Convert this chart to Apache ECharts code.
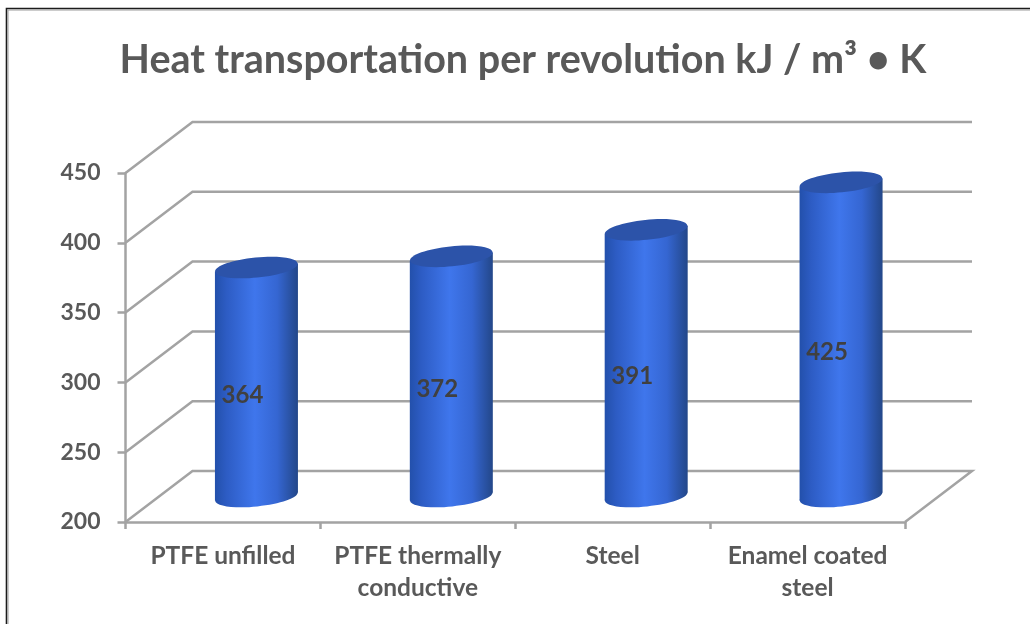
<!DOCTYPE html>
<html>
<head>
<meta charset="utf-8">
<style>html,body{margin:0;padding:0;background:#fff}#c{width:1030px;height:624px}</style>
<script src="https://cdn.jsdelivr.net/npm/echarts@6/dist/echarts.min.js"></script>
</head>
<body>
<div id="c"></div>
<script>
var titleText = 'Heat transportation per revolution kJ / m³ • K';
var categories = ['PTFE unfilled', 'PTFE thermally\nconductive', 'Steel', 'Enamel coated\nsteel'];
var values = [364, 372, 391, 425];
var yTicks = [200, 250, 300, 350, 400, 450];

var FONT = 'Lato, "Open Sans", sans-serif';
var TEXT = '#595959';
var LINE = '#a3a3a3';
var LW = 2.5;
var DX = 67, DY = -51;

var chart = echarts.init(document.getElementById('c'));

function wall(params, api) {
  var v = api.value(0);
  var cs = params.coordSys;
  var y = api.coord([0, v])[1];
  var x0 = cs.x, x1 = cs.x + cs.width;
  var pts = [[x0, y], [x0 + DX, y + DY], [x1 + DX, y + DY]];
  if (v === yTicks[0]) pts.push([x1, y]);
  return {
    type: 'polyline',
    shape: { points: pts },
    style: { stroke: LINE, lineWidth: LW, fill: null },
    silent: true
  };
}

function cylinder(params, api) {
  var cat = api.value(0), v = api.value(1);
  var top = api.coord([cat, v]);
  var base = api.coord([cat, yTicks[0]]);
  var cx = top[0] + DX / 2, ty = top[1] + DY / 2, by = base[1] + DY / 2;
  var rx = 41.5, ry = 10, tilt = 4;
  function side() {
    return new echarts.graphic.LinearGradient(0, 0, 1, 0, [
      { offset: 0, color: '#2350ab' },
      { offset: 0.14, color: '#2d5cc4' },
      { offset: 0.48, color: '#3f76ec' },
      { offset: 0.75, color: '#3566d2' },
      { offset: 1, color: '#234789' }
    ]);
  }
  function ell(y, fill) {
    return {
      type: 'ellipse',
      shape: { cx: cx, cy: y, rx: rx, ry: ry },
      originX: cx, originY: y, rotation: 0.1,
      style: { fill: fill }
    };
  }
  return {
    type: 'group',
    children: [
      ell(by, side()),
      {
        type: 'polygon',
        shape: { points: [[cx - rx, ty + tilt], [cx + rx, ty - tilt], [cx + rx, by - tilt], [cx - rx, by + tilt]] },
        style: { fill: side() }
      },
      ell(ty, '#2c53a9'),
      {
        type: 'text',
        x: cx - 14, y: (ty + by) / 2 + 13,
        style: {
          text: String(v), fill: '#404040',
          font: '700 24px ' + FONT, align: 'center', verticalAlign: 'middle'
        }
      }
    ]
  };
}

chart.setOption({
  animation: false,
  backgroundColor: '#fff',
  title: {
    text: titleText, left: 518, top: 35, textAlign: 'center',
    textStyle: { fontFamily: FONT, fontWeight: 700, fontSize: 39.5, color: TEXT }
  },
  graphic: [
    { type: 'polyline', silent: true, shape: { points: [[6.5, 624], [6.5, 8.5], [1030, 8.5]] }, style: { stroke: '#1c1c1c', lineWidth: 1.6, fill: null } },
    { type: 'polyline', silent: true, shape: { points: [[8, 624], [8, 10], [1030, 10]] }, style: { stroke: '#9a9a9a', lineWidth: 1, fill: null } }
  ],
  grid: { left: 125.5, right: 125, top: 173, bottom: 102 },
  xAxis: {
    type: 'category', data: categories,
    axisLine: { lineStyle: { color: LINE, width: LW } },
    axisTick: { show: true, length: 7, alignWithLabel: false, lineStyle: { color: LINE, width: LW } },
    axisLabel: { interval: 0, margin: 18, color: TEXT, fontFamily: FONT, fontWeight: 700, fontSize: 24.5, lineHeight: 32 }
  },
  yAxis: {
    type: 'value', min: 200, max: 450, interval: 50,
    splitLine: { show: false },
    axisLine: { show: true, lineStyle: { color: LINE, width: LW } },
    axisTick: { show: true, length: 8, lineStyle: { color: LINE, width: LW } },
    axisLabel: { margin: 25, color: TEXT, fontFamily: FONT, fontWeight: 700, fontSize: 23, padding: [3, 0, 0, 0] }
  },
  series: [
    { type: 'custom', name: 'walls', coordinateSystem: 'cartesian2d', clip: false, z: 1,
      encode: { y: 0 }, data: yTicks.map(function (t) { return [t]; }), renderItem: wall },
    { type: 'custom', name: 'values', coordinateSystem: 'cartesian2d', clip: false, z: 3,
      encode: { x: 0, y: 1 }, data: values.map(function (v, i) { return [i, v]; }), renderItem: cylinder }
  ]
});
</script>
</body>
</html>
